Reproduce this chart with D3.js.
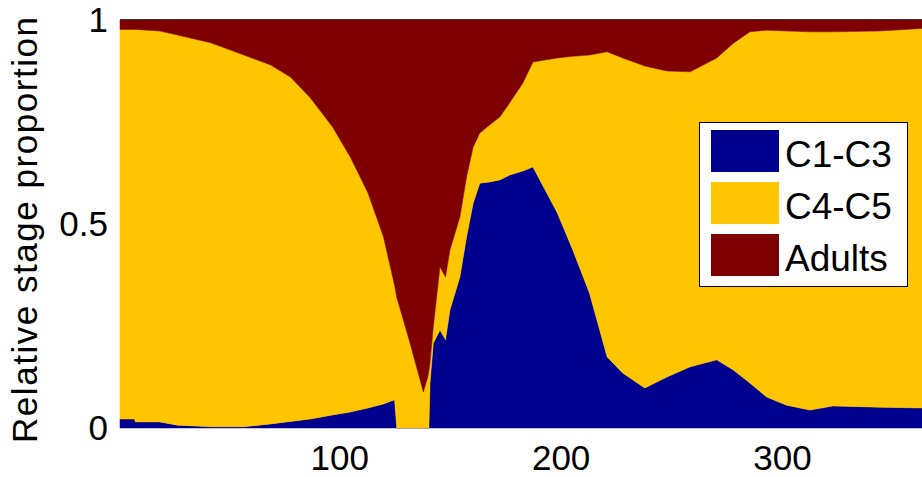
<!DOCTYPE html>
<html>
  <meta charset="utf-8" />
  <head>
    <script src="https://cdnjs.cloudflare.com/ajax/libs/d3/7.8.5/d3.min.js"></script>
    <style>
      body { margin: 0; background: #fff; }
      svg { display: block; font-family: "Liberation Sans", Arial, sans-serif; }
    </style>
  </head>
  <body>
    <script>
    // day of year
    const days = [1, 7.5, 8, 19, 27, 42, 57, 69, 78, 87, 97, 105, 113, 120, 125, 126,
        132, 136.5, 138, 140, 140.5, 141, 142.5, 145.5, 148, 150, 154.5, 157.5, 160.5,
        163.5, 168, 172.5, 177, 183, 187.5, 198.5, 205.5, 213, 221, 228, 238, 248,
        258.5, 270.5, 278, 285.5, 293, 302, 312.5, 323, 344, 365];

    const c1c3 = [0.022, 0.022, 0.015, 0.015, 0.007, 0.003, 0.003, 0.010, 0.016, 0.022,
        0.032, 0.039, 0.049, 0.059, 0.069, 0, 0, 0, 0, 0, 0, 0.110, 0.208, 0.240, 0.216,
        0.289, 0.370, 0.468, 0.551, 0.600, 0.603, 0.608, 0.620, 0.630, 0.640, 0.527,
        0.436, 0.331, 0.174, 0.135, 0.098, 0.125, 0.150, 0.167, 0.142, 0.110, 0.076,
        0.056, 0.044, 0.054, 0.051, 0.049];

    const c4c5 = [0.955, 0.955, 0.962, 0.958, 0.956, 0.941, 0.911, 0.880, 0.844, 0.787,
        0.706, 0.625, 0.527, 0.409, 0.281, 0.320, 0.208, 0.118, 0.088, 0.125, 0.140,
        0.050, 0.040, 0.155, 0.154, 0.147, 0.147, 0.147, 0.138, 0.123, 0.140, 0.154,
        0.177, 0.216, 0.257, 0.380, 0.475, 0.583, 0.748, 0.772, 0.789, 0.750, 0.723,
        0.740, 0.801, 0.861, 0.899, 0.917, 0.927, 0.917, 0.922, 0.931];

    const adults = [0.023, 0.023, 0.023, 0.027, 0.037, 0.056, 0.086, 0.110, 0.140, 0.191,
        0.262, 0.336, 0.424, 0.532, 0.650, 0.680, 0.792, 0.882, 0.912, 0.875, 0.860,
        0.840, 0.752, 0.605, 0.630, 0.564, 0.483, 0.385, 0.311, 0.277, 0.257, 0.238,
        0.203, 0.154, 0.103, 0.093, 0.089, 0.086, 0.078, 0.093, 0.113, 0.125, 0.127,
        0.093, 0.057, 0.029, 0.025, 0.027, 0.029, 0.029, 0.027, 0.020];

    const seriesNames = ["C1-C3", "C4-C5", "Adults"];
    const seriesColors = ["#00008f", "#ffc600", "#7f0000"];
    const xTicks = [100, 200, 300];
    const yTicks = [0, 0.5, 1];

    const width = 922, height = 477;
    const plot = { left: 120, top: 20, right: 926, bottom: 428 };

    const table = days.map((d, i) => ({
        day: d, "C1-C3": c1c3[i], "C4-C5": c4c5[i], "Adults": adults[i]
    }));

    const svg = d3.select("body").append("svg")
        .attr("width", width)
        .attr("height", height);

    const x = d3.scaleLinear().domain([1, 365]).range([plot.left, plot.right]);
    const y = d3.scaleLinear().domain([0, 1]).range([plot.bottom, plot.top]);
    const color = d3.scaleOrdinal(seriesNames, seriesColors);

    const stack = d3.stack().keys(seriesNames);
    const area = d3.area()
        .x(d => x(d.data.day))
        .y0(d => y(d[0]))
        .y1(d => y(d[1]));

    svg.append("g")
        .selectAll("path")
        .data(stack(table))
        .join("path")
        .attr("fill", d => color(d.key))
        .attr("stroke", d => color(d.key))
        .attr("stroke-width", 0.5)
        .attr("d", area);

    // top edge of the axes box
    svg.append("line")
        .attr("x1", plot.left).attr("x2", width)
        .attr("y1", plot.top - 0.5).attr("y2", plot.top - 0.5)
        .attr("stroke", "#333");

    const xAxis = svg.append("g")
        .attr("transform", `translate(0,${plot.bottom})`)
        .call(d3.axisBottom(x).tickValues(xTicks).tickSize(0).tickPadding(17));
    const yAxis = svg.append("g")
        .attr("transform", `translate(${plot.left},0)`)
        .call(d3.axisLeft(y).tickValues(yTicks).tickSize(0).tickPadding(12)
            .tickFormat(d3.format("~g")));
    [xAxis, yAxis].forEach(g => {
        g.select(".domain").remove();
        g.selectAll("text")
            .attr("font-family", "Liberation Sans, Arial, sans-serif")
            .attr("font-size", 35)
            .attr("fill", "#000");
    });

    svg.append("text")
        .attr("transform", "translate(37,230) rotate(-90)")
        .attr("text-anchor", "middle")
        .attr("font-size", 35)
        .attr("textLength", 426)
        .attr("lengthAdjust", "spacing")
        .text("Relative stage proportion");

    // legend
    const legend = svg.append("g").attr("transform", "translate(699,122)");
    legend.append("rect")
        .attr("x", 0.5).attr("y", 0.5)
        .attr("width", 208).attr("height", 164)
        .attr("fill", "#fff")
        .attr("stroke", "#000");
    const items = legend.selectAll("g.item")
        .data(seriesNames)
        .join("g")
        .attr("class", "item")
        .attr("transform", (d, i) => `translate(12,${8 + i * 52})`);
    items.append("rect")
        .attr("width", 68).attr("height", 42)
        .attr("fill", d => color(d));
    items.append("text")
        .attr("x", 74).attr("y", 37)
        .attr("font-size", 37)
        .text(d => d);
    </script>
  </body>
</html>
